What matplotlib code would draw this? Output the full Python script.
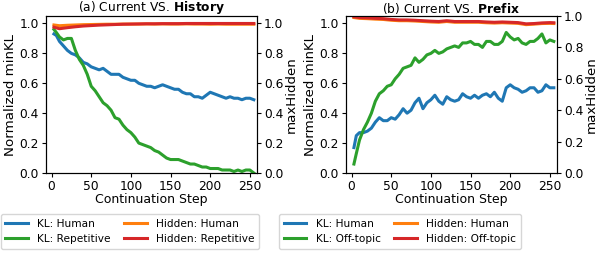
import matplotlib
matplotlib.use('Agg')
import matplotlib.pyplot as plt

plt.rcParams['font.family'] = ['DejaVu Sans']
plt.rcParams['font.size'] = 8.8

# continuation steps (sampled)
steps = [3, 6] + list(range(10, 256, 5))
hid_steps = [3] + list(range(10, 251, 10)) + [255]

# (a) Current VS. History
kl_human_a = [0.93, 0.92, 0.88, 0.85, 0.82, 0.80, 0.79, 0.77, 0.74, 0.73, 0.71, 0.70, 0.69,
              0.70, 0.68, 0.66, 0.66, 0.66, 0.64, 0.63, 0.62, 0.62, 0.60, 0.59, 0.58, 0.58,
              0.57, 0.58, 0.59, 0.58, 0.57, 0.56, 0.56, 0.54, 0.53, 0.53, 0.51, 0.51, 0.50,
              0.52, 0.54, 0.53, 0.52, 0.51, 0.50, 0.51, 0.50, 0.50, 0.49, 0.50, 0.50, 0.49]
kl_rep_a = [0.96, 0.94, 0.91, 0.89, 0.90, 0.90, 0.82, 0.76, 0.72, 0.66, 0.58, 0.55, 0.51,
            0.47, 0.45, 0.42, 0.37, 0.36, 0.32, 0.29, 0.27, 0.24, 0.20, 0.19, 0.18, 0.17,
            0.15, 0.14, 0.12, 0.10, 0.09, 0.09, 0.09, 0.08, 0.07, 0.06, 0.06, 0.05, 0.04,
            0.04, 0.03, 0.03, 0.03, 0.02, 0.02, 0.02, 0.01, 0.02, 0.01, 0.02, 0.02, 0.00]
hid_human_a = [0.99, 0.985, 0.988, 0.99, 0.992, 0.993, 0.994, 0.995, 0.995, 0.996, 0.996, 0.996,
               0.997, 0.996, 0.997, 0.996, 0.996, 0.997, 0.996, 0.996, 0.995, 0.996, 0.995,
               0.995, 0.995, 0.995, 0.995]
hid_rep_a = [0.975, 0.965, 0.972, 0.978, 0.983, 0.986, 0.989, 0.991, 0.993, 0.995, 0.996, 0.997,
             0.998, 0.998, 0.999, 0.999, 0.999, 1.0, 1.0, 1.0, 1.0, 1.0, 1.0, 1.0, 1.0, 1.0, 1.0]

# (b) Current VS. Prefix
kl_human_b = [0.17, 0.25, 0.27, 0.27, 0.28, 0.30, 0.34, 0.37, 0.35, 0.35, 0.37, 0.36, 0.39,
              0.43, 0.40, 0.42, 0.47, 0.50, 0.43, 0.47, 0.49, 0.52, 0.48, 0.46, 0.51, 0.49,
              0.48, 0.49, 0.53, 0.51, 0.50, 0.52, 0.50, 0.52, 0.53, 0.51, 0.54, 0.50, 0.48,
              0.57, 0.59, 0.57, 0.56, 0.54, 0.55, 0.57, 0.57, 0.54, 0.55, 0.59, 0.57, 0.57]
kl_off_b = [0.06, 0.13, 0.22, 0.29, 0.34, 0.40, 0.48, 0.53, 0.55, 0.58, 0.59, 0.63, 0.66,
            0.70, 0.71, 0.72, 0.77, 0.74, 0.76, 0.79, 0.80, 0.82, 0.80, 0.81, 0.83, 0.84,
            0.85, 0.84, 0.87, 0.87, 0.88, 0.86, 0.86, 0.84, 0.88, 0.88, 0.86, 0.86, 0.88,
            0.94, 0.91, 0.89, 0.90, 0.87, 0.86, 0.88, 0.88, 0.90, 0.93, 0.87, 0.89, 0.88]
hid_human_b = [0.99, 0.985, 0.983, 0.98, 0.978, 0.973, 0.97, 0.97, 0.968, 0.965, 0.962, 0.96,
               0.965, 0.96, 0.96, 0.96, 0.96, 0.957, 0.955, 0.957, 0.955, 0.953, 0.945,
               0.948, 0.952, 0.953, 0.952]
hid_off_b = [0.995, 0.99, 0.988, 0.985, 0.983, 0.978, 0.975, 0.975, 0.973, 0.97, 0.967, 0.965,
             0.97, 0.965, 0.965, 0.965, 0.965, 0.962, 0.96, 0.962, 0.96, 0.958, 0.95, 0.952,
             0.956, 0.958, 0.957]

panels = [
    (r'(a) Current VS. $\bf{History}$', kl_human_a, kl_rep_a, hid_human_a, hid_rep_a,
     'Repetitive', 1.05, 130),
    (r'(b) Current VS. $\bf{Prefix}$', kl_human_b, kl_off_b, hid_human_b, hid_off_b,
     'Off-topic', 1.0, 400),
]

fig = plt.figure(figsize=(6, 2.56), dpi=100)
lefts = [46 / 600, 346 / 600]
lw = 2.2

for left, (title, klh, klo, hh, ho, name, rtop, legx) in zip(lefts, panels):
    ax = fig.add_axes([left, 1 - 173 / 256, 211 / 600, 157 / 256])
    ax2 = ax.twinx()
    l1, = ax.plot(steps, klh, color='tab:blue', lw=lw, label='KL: Human')
    l2, = ax.plot(steps, klo, color='tab:green', lw=lw, label='KL: ' + name)
    l3, = ax2.plot(hid_steps, hh, color='tab:orange', lw=lw, label='Hidden: Human')
    l4, = ax2.plot(hid_steps, ho, color='tab:red', lw=lw, label='Hidden: ' + name)
    ax.set_xlim(-7, 259)
    ax.set_ylim(0, 1.05)
    ax2.set_ylim(0, rtop)
    ax.set_yticks([0, 0.2, 0.4, 0.6, 0.8, 1.0])
    ax2.set_yticks([0, 0.2, 0.4, 0.6, 0.8, 1.0])
    ax.set_xticks([0, 50, 100, 150, 200, 250])
    ax.set_xlabel('Continuation Step', labelpad=0, fontsize=9)
    ax.set_ylabel('Normalized minKL', labelpad=2, fontsize=9.6)
    ax2.set_ylabel('maxHidden', labelpad=1, fontsize=9.6)
    ax.set_title(title, pad=1, fontsize=8.8)
    for a in (ax, ax2):
        a.tick_params(length=3, pad=2)
    fig.legend(handles=[l1, l2, l3, l4], ncol=2, loc='upper center', fontsize=7.6,
               bbox_to_anchor=(legx / 600, 1 - 214 / 256), columnspacing=1.3,
               handlelength=2.1, borderpad=0.45, labelspacing=0.5, handletextpad=0.9,
               borderaxespad=0)

fig.savefig('out.png', dpi=100)
